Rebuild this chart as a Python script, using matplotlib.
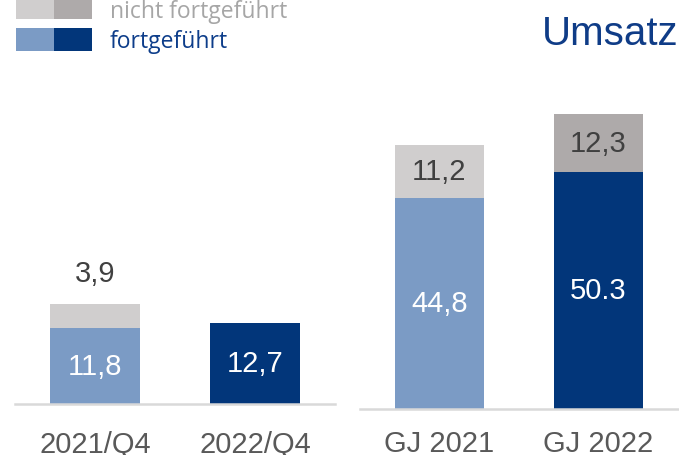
import matplotlib.pyplot as plt
from matplotlib.patches import Rectangle

W, H = 679, 456

q_labels = ['2021/Q4', '2022/Q4']
q_fort = [11.8, 12.7]
q_nicht = [3.9, 0.0]
q_fort_txt = ['11,8', '12,7']
q_nicht_txt = ['3,9', '']

gj_labels = ['GJ 2021', 'GJ 2022']
gj_fort = [44.8, 50.3]
gj_nicht = [11.2, 12.3]
gj_fort_txt = ['44,8', '50.3']
gj_nicht_txt = ['11,2', '12,3']

light_blue = '#7B9BC5'
dark_blue = '#02367A'
light_gray = '#D0CECE'
dark_gray = '#AEAAAA'
text_dark = '#404040'
tick_col = '#595959'

plt.rcParams['font.family'] = ['Liberation Sans', 'DejaVu Sans']

fig = plt.figure(figsize=(W / 100, H / 100), dpi=100)


def px_axes(x0, x1, y_top, y_base):
    return fig.add_axes([x0 / W, 1 - y_base / H, (x1 - x0) / W, (y_base - y_top) / H])


def style(ax, labels, pad):
    for s in ['top', 'left', 'right']:
        ax.spines[s].set_visible(False)
    ax.spines['bottom'].set_color('#D9D9D9')
    ax.spines['bottom'].set_linewidth(1.8)
    ax.set_yticks([])
    ax.set_xticks([0, 1])
    ax.set_xticklabels(labels, fontsize=21, color=tick_col)
    ax.tick_params(axis='x', length=0, pad=pad)
    ax.set_xlim(-0.5, 1.5)
    ax.patch.set_alpha(0)


x = [0, 1]

# left panel: quarters
ax1 = px_axes(15, 335, 60, 405)
ax1.set_ylim(0, 345 / 6.4)
style(ax1, q_labels, 18.5)
bw = 0.5625
ax1.bar(x, q_fort, width=bw, color=[light_blue, dark_blue])
ax1.bar(x, q_nicht, width=bw, bottom=q_fort, color=[light_gray, dark_gray])
for i in range(2):
    ax1.text(x[i], q_fort[i] / 2, q_fort_txt[i], ha='center', va='center',
             fontsize=21, color='white')
    if q_nicht_txt[i]:
        ax1.annotate(q_nicht_txt[i], (x[i], q_fort[i] + q_nicht[i]),
                     xytext=(0, 22), textcoords='offset points',
                     ha='center', va='center', fontsize=21, color=text_dark)

# right panel: fiscal years
ax2 = px_axes(360, 678, 60, 410)
ax2.set_ylim(0, 350 / 4.72)
style(ax2, gj_labels, 14.5)
ax2.spines['bottom'].set_bounds(-0.5, 1.6)
ax2.spines['bottom'].set_clip_on(False)
bw2 = 0.56
ax2.bar(x, gj_fort, width=bw2, color=[light_blue, dark_blue])
ax2.bar(x, gj_nicht, width=bw2, bottom=gj_fort, color=[light_gray, dark_gray])
for i in range(2):
    ax2.text(x[i], gj_fort[i] / 2, gj_fort_txt[i], ha='center', va='center',
             fontsize=21, color='white')
    ax2.text(x[i], gj_fort[i] + gj_nicht[i] / 2, gj_nicht_txt[i], ha='center',
             va='center', fontsize=21, color=text_dark)


# legend
def px_rect(x0, y0, w, h, c):
    fig.add_artist(Rectangle((x0 / W, 1 - (y0 + h) / H), w / W, h / H,
                             transform=fig.transFigure, color=c, lw=0))


px_rect(16, -2, 38, 22, light_gray)
px_rect(54, -2, 38, 22, dark_gray)
px_rect(16, 29, 38, 23, light_blue)
px_rect(54, 29, 38, 23, dark_blue)
fig.text(110 / W, 1 - 12 / H, 'nicht fortgeführt', fontsize=16.5, color='#A6A6A6',
         family='Open Sans', ha='left', va='center')
fig.text(110 / W, 1 - 42 / H, 'fortgeführt', fontsize=16.5, color='#0D3D8A',
         family='Open Sans', ha='left', va='center')

# title
fig.text(542 / W, 1 - 45 / H, 'Umsatz', fontsize=29, color='#0F3C87',
         ha='left', va='baseline')

fig.savefig('out.png', dpi=100)
